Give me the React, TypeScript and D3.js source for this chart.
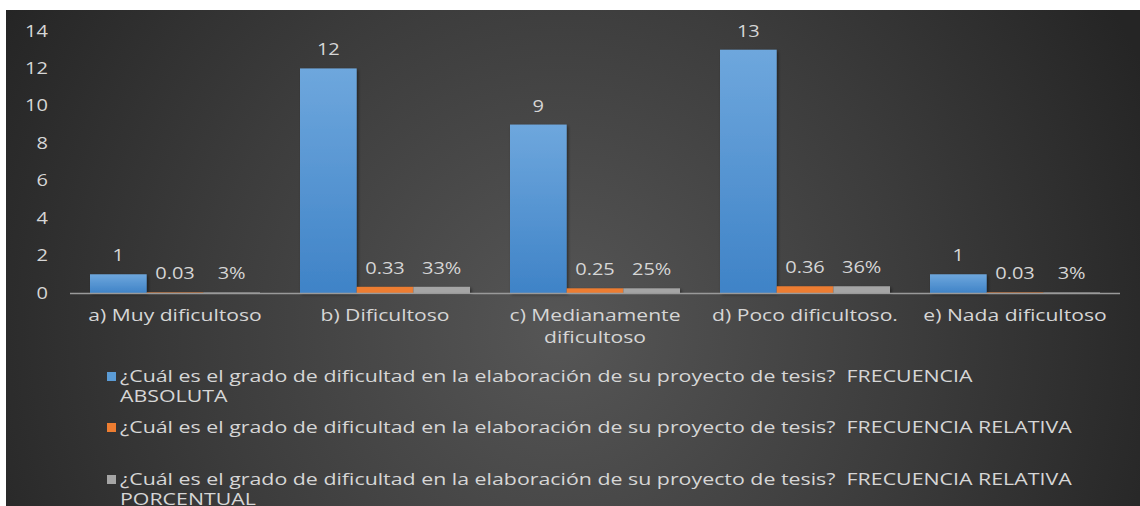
import React from "react";
import * as d3 from "d3";

const categories = [
  ["a) Muy dificultoso"],
  ["b) Dificultoso"],
  ["c) Medianamente", "dificultoso"],
  ["d) Poco dificultoso."],
  ["e) Nada dificultoso"],
];
const absoluta = [1, 12, 9, 13, 1];
const relativa = [0.03, 0.33, 0.25, 0.36, 0.03];
const porcentual = [0.03, 0.33, 0.25, 0.36, 0.03];
const yTicks = [0, 2, 4, 6, 8, 10, 12, 14];
const legendLines = [
  ["¿Cuál es el grado de dificultad en la elaboración de su proyecto de tesis?  FRECUENCIA", "ABSOLUTA"],
  ["¿Cuál es el grado de dificultad en la elaboración de su proyecto de tesis?  FRECUENCIA RELATIVA"],
  ["¿Cuál es el grado de dificultad en la elaboración de su proyecto de tesis?  FRECUENCIA RELATIVA", "PORCENTUAL"],
];

const W = 1140, H = 506;
const FONT = "'Open Sans', sans-serif";
const FS = 16;
const SX = 1.32;
const TXT = "#d6d6d6";

export default function App() {
  const catKeys = categories.map((c) => c.join(" "));
  const x = d3.scaleBand<string>().domain(catKeys).range([70, 1120]).padding(0);
  const inner = d3.scaleBand<string>().domain(["abs", "rel", "pct"]).range([20, x.bandwidth() - 20]).padding(0);
  const y = d3.scaleLinear().domain([0, 14]).range([293, 31]);

  const series = [
    { key: "abs", vals: absoluta, fill: "url(#blueGrad)", fmt: (v: number) => d3.format("d")(v) },
    { key: "rel", vals: relativa, fill: "#ed7d31", fmt: (v: number) => d3.format(".2f")(v) },
    { key: "pct", vals: porcentual, fill: "#a5a5a5", fmt: (v: number) => d3.format(".0%")(v) },
  ];
  const colors = ["#5b9bd5", "#ed7d31", "#a5a5a5"];

  const T = (props: { x: number; y: number; anchor?: string; children: React.ReactNode; sx?: number }) => (
    <text
      transform={`translate(${props.x},${props.y}) scale(${props.sx ?? SX},1)`}
      textAnchor={props.anchor || "start"}
      fontFamily={FONT}
      fontSize={FS}
      fill={TXT}
      style={{ whiteSpace: "pre" }}
    >
      {props.children}
    </text>
  );

  const legendBase = [382, 433, 485];

  return (
    <svg width={W} height={H} style={{ position: "absolute", left: 0, top: 0 }}>
      <defs>
        <radialGradient id="bg" gradientUnits="userSpaceOnUse" cx={560} cy={330} r={640}>
          <stop offset="0" stopColor="#565656" />
          <stop offset="0.55" stopColor="#3c3c3c" />
          <stop offset="1" stopColor="#252525" />
        </radialGradient>
        <linearGradient id="blueGrad" x1="0" y1="0" x2="0" y2="1">
          <stop offset="0" stopColor="#6ea7dd" />
          <stop offset="1" stopColor="#3f83c7" />
        </linearGradient>
        <filter id="sh" x="-20%" y="-20%" width="140%" height="140%">
          <feDropShadow dx="1.5" dy="1.5" stdDeviation="1.5" floodColor="#000" floodOpacity="0.45" />
        </filter>
      </defs>
      <rect x={0} y={0} width={W} height={H} fill="#ffffff" />
      <rect x={6} y={10} width={W - 6} height={H - 10} fill="url(#bg)" />

      {yTicks.map((t) => (
        <T key={t} x={48} y={y(t) + 5.5} anchor="end" sx={1.25}>
          {t}
        </T>
      ))}

      {series.map((s) =>
        s.vals.map((v, i) => {
          const bx = (x(catKeys[i]) as number) + (inner(s.key) as number);
          return (
            <rect
              key={s.key + i}
              x={bx}
              y={y(v)}
              width={inner.bandwidth()}
              height={y(0) - y(v)}
              fill={s.fill}
              filter="url(#sh)"
            />
          );
        })
      )}

      <line x1={70} x2={1120} y1={y(0) + 0.5} y2={y(0) + 0.5} stroke="#9a9a9a" strokeWidth={1.5} />

      {series.map((s) =>
        s.vals.map((v, i) => {
          const cx = (x(catKeys[i]) as number) + (inner(s.key) as number) + inner.bandwidth() / 2;
          return (
            <T key={"l" + s.key + i} x={cx} y={y(v) - 13} anchor="middle" sx={1.25}>
              {s.fmt(v)}
            </T>
          );
        })
      )}

      {categories.map((lines, i) => {
        const cx = (x(catKeys[i]) as number) + x.bandwidth() / 2;
        return lines.map((ln, j) => (
          <T key={"c" + i + j} x={cx} y={321 + j * 22} anchor="middle">
            {ln}
          </T>
        ));
      })}

      {legendLines.map((lines, i) => (
        <g key={"lg" + i}>
          <rect x={107} y={legendBase[i] - 10} width={9} height={9} fill={colors[i]} />
          {lines.map((ln, j) => (
            <T key={j} x={120} y={legendBase[i] + j * 20} sx={1.335}>
              {ln}
            </T>
          ))}
        </g>
      ))}
    </svg>
  );
}
